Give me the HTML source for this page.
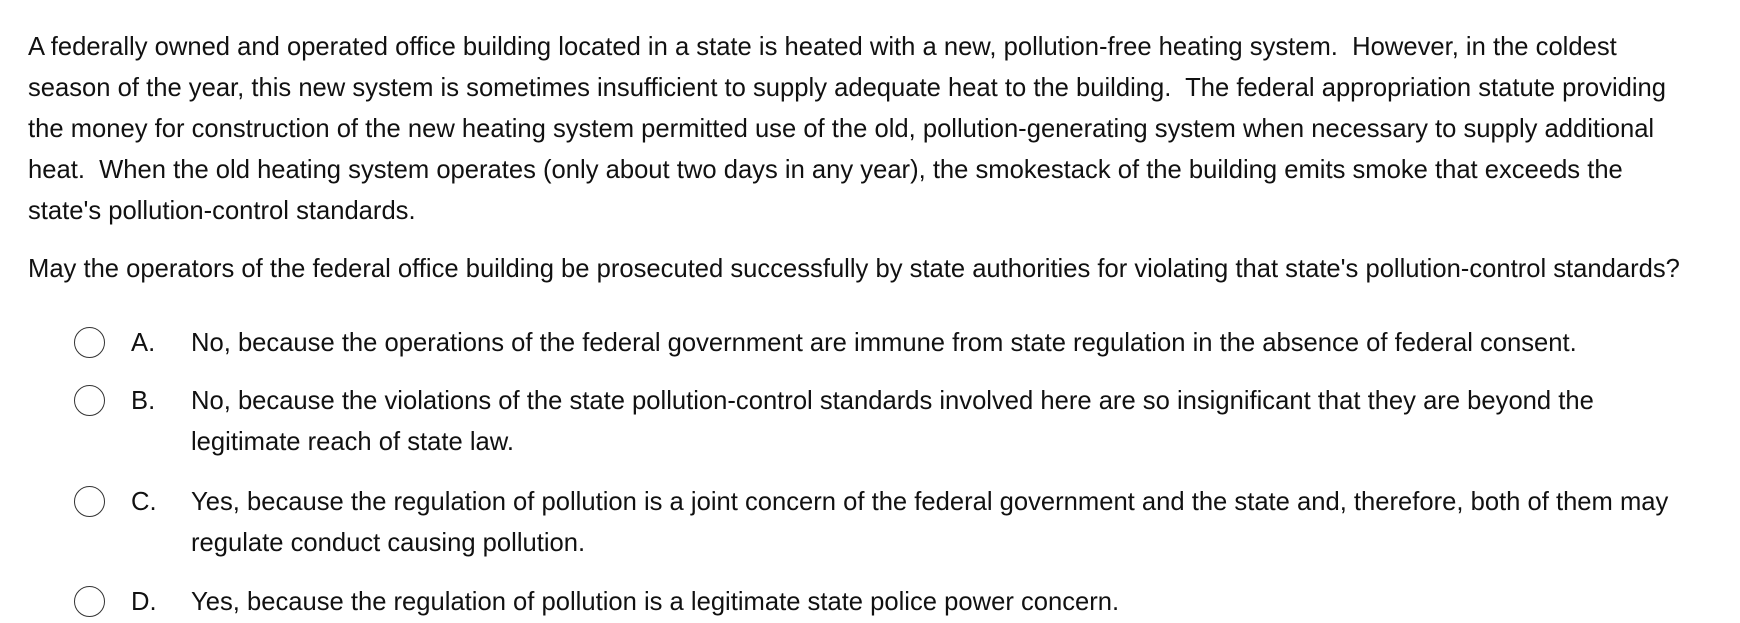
<!DOCTYPE html>
<html><head><meta charset="utf-8"><style>
body{margin:0;width:1740px;height:622px;background:#fff;font-family:"Liberation Sans",Arial,sans-serif;font-size:25.6px;color:#111;position:relative;overflow:hidden}
.l{position:absolute;white-space:pre;line-height:41px;height:41px}
.c{position:absolute;left:74px;width:31px;height:31px;border:1.5px solid #333;border-radius:50%;box-sizing:border-box}
</style></head><body>
<div>
<div class="l" style="left:28px;top:27px">A federally owned and operated office building located in a state is heated with a new, pollution-free heating system.  However, in the coldest</div>
<div class="l" style="left:28px;top:68px">season of the year, this new system is sometimes insufficient to supply adequate heat to the building.  The federal appropriation statute providing</div>
<div class="l" style="left:28px;top:109px">the money for construction of the new heating system permitted use of the old, pollution-generating system when necessary to supply additional</div>
<div class="l" style="left:28px;top:150px">heat.  When the old heating system operates (only about two days in any year), the smokestack of the building emits smoke that exceeds the</div>
<div class="l" style="left:28px;top:191px">state's pollution-control standards.</div>
</div>
<div class="l" style="left:28px;top:249px">May the operators of the federal office building be prosecuted successfully by state authorities for violating that state's pollution-control standards?</div>

<div>
<div class="c" style="top:327px"></div>
<div class="l" style="left:131px;top:323px">A.</div>
<div class="l" style="left:191px;top:323px">No, because the operations of the federal government are immune from state regulation in the absence of federal consent.</div>
</div>
<div>
<div class="c" style="top:385px"></div>
<div class="l" style="left:131px;top:381px">B.</div>
<div class="l" style="left:191px;top:381px">No, because the violations of the state pollution-control standards involved here are so insignificant that they are beyond the</div>
<div class="l" style="left:191px;top:422px">legitimate reach of state law.</div>
</div>
<div>
<div class="c" style="top:486px"></div>
<div class="l" style="left:131px;top:482px">C.</div>
<div class="l" style="left:191px;top:482px">Yes, because the regulation of pollution is a joint concern of the federal government and the state and, therefore, both of them may</div>
<div class="l" style="left:191px;top:523px">regulate conduct causing pollution.</div>
</div>
<div>
<div class="c" style="top:586px"></div>
<div class="l" style="left:131px;top:582px">D.</div>
<div class="l" style="left:191px;top:582px">Yes, because the regulation of pollution is a legitimate state police power concern.</div>
</div>
</body></html>
